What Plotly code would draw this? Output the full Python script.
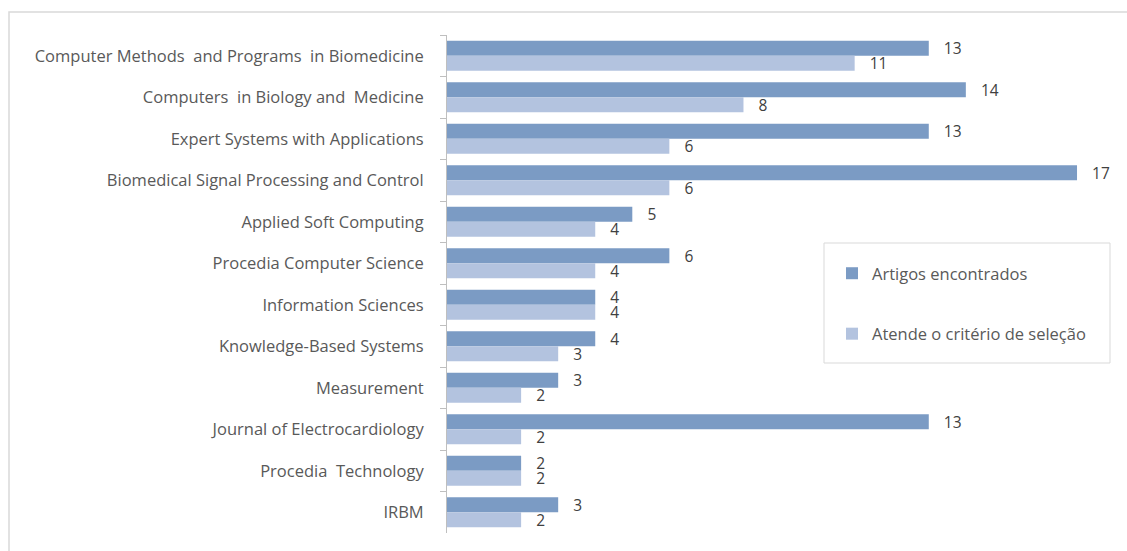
import plotly.graph_objects as go

categories = [
    "Computer Methods  and Programs  in Biomedicine",
    "Computers  in Biology and  Medicine",
    "Expert Systems with Applications",
    "Biomedical Signal Processing and Control",
    "Applied Soft Computing",
    "Procedia Computer Science",
    "Information Sciences",
    "Knowledge-Based Systems",
    "Measurement",
    "Journal of Electrocardiology",
    "Procedia  Technology",
    "IRBM",
]
artigos = [13, 14, 13, 17, 5, 6, 4, 4, 3, 13, 2, 3]
atende = [11, 8, 6, 6, 4, 4, 4, 3, 2, 2, 2, 2]

W, H = 1127, 551
ML, MR, MT, MB = 447, 27, 35, 18
pw = W - ML - MR
ph = H - MT - MB
px_per_unit = 37.06
xmax = pw / px_per_unit

def px_x(p):
    return (p - ML) / pw

def px_y(p):
    return (H - MB - p) / ph

FONT = "Open Sans"

fig = go.Figure()
fig.add_trace(go.Bar(
    y=categories, x=artigos, orientation="h", name="Artigos encontrados",
    marker=dict(color="#7b9bc4", line=dict(width=0)),
    text=artigos, texttemplate="   %{x}", textposition="outside",
    textfont=dict(family=FONT, size=15.5, color="#404040"),
    constraintext="none", cliponaxis=False, legendgroup="a",
))
fig.add_trace(go.Bar(
    y=categories, x=atende, orientation="h", name="Atende o critério de seleção",
    marker=dict(color="#b3c3df", line=dict(width=0)),
    text=atende, texttemplate="   %{x}", textposition="outside",
    textfont=dict(family=FONT, size=15.5, color="#404040"),
    constraintext="none", cliponaxis=False, legendgroup="b",
))

fig.update_layout(
    width=W, height=H,
    margin=dict(l=ML, r=MR, t=MT, b=MB, pad=0),
    paper_bgcolor="white", plot_bgcolor="white",
    barmode="group", bargap=0.277, bargroupgap=0,
    font=dict(family=FONT, size=16.5, color="#595959"),
    xaxis=dict(range=[0, xmax], visible=False, showgrid=False, zeroline=False),
    yaxis=dict(
        autorange="reversed", showline=True, linecolor="#bfbfbf", linewidth=1,
        ticks="outside", tickson="boundaries", ticklen=6, tickcolor="#bfbfbf",
        ticklabelstandoff=19, showgrid=False,
        tickfont=dict(family=FONT, size=16.5, color="#595959"),
    ),
    legend=dict(
        x=px_x(832), y=px_y(256), xanchor="left", yanchor="top",
        bgcolor="rgba(0,0,0,0)", borderwidth=0,
        tracegroupgap=36, itemsizing="constant",
        font=dict(family=FONT, size=16.5, color="#595959"),
    ),
    shapes=[
        dict(type="rect", xref="paper", yref="paper",
             x0=px_x(9), x1=px_x(1140), y0=px_y(560), y1=px_y(12),
             line=dict(color="#d9d9d9", width=1.5), fillcolor="rgba(0,0,0,0)", layer="below"),
        dict(type="rect", xref="paper", yref="paper",
             x0=px_x(824), x1=px_x(1110), y0=px_y(363), y1=px_y(243),
             line=dict(color="#d9d9d9", width=1), fillcolor="white", layer="above"),
    ],
)

fig.write_html("out.html")
